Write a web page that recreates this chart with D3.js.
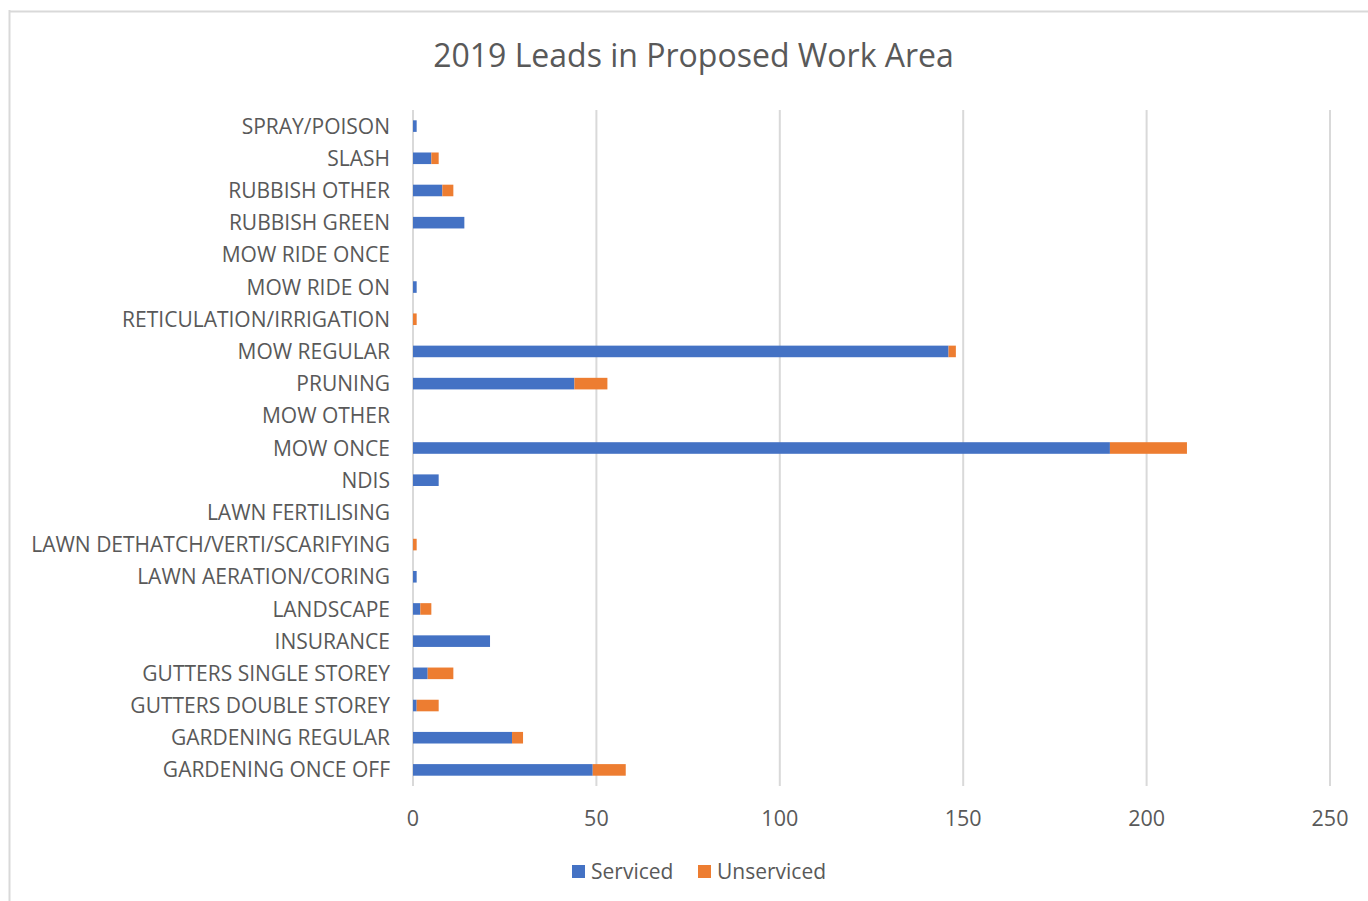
<!DOCTYPE html>
<html>
<head>
<meta charset="utf-8">
<script src="https://cdn.jsdelivr.net/npm/d3@7"></script>
<style>
  html, body { margin: 0; padding: 0; background: #ffffff; }
  svg { display: block; }
  text { font-family: "Open Sans", "Noto Sans", sans-serif; fill: #595959; }
</style>
</head>
<body>
<svg id="chart" width="1368" height="901"></svg>
<script>
// Categories listed top to bottom as displayed
const categories = [
  "SPRAY/POISON", "SLASH", "RUBBISH OTHER", "RUBBISH GREEN", "MOW RIDE ONCE",
  "MOW RIDE ON", "RETICULATION/IRRIGATION", "MOW REGULAR", "PRUNING", "MOW OTHER",
  "MOW ONCE", "NDIS", "LAWN FERTILISING", "LAWN DETHATCH/VERTI/SCARIFYING",
  "LAWN AERATION/CORING", "LANDSCAPE", "INSURANCE", "GUTTERS SINGLE STOREY",
  "GUTTERS DOUBLE STOREY", "GARDENING REGULAR", "GARDENING ONCE OFF"
];
const serviced   = [1, 5, 8, 14, 0, 1, 0, 146, 44, 0, 190, 7, 0, 0, 1, 2, 21, 4, 1, 27, 49];
const unserviced = [0, 2, 3, 0, 0, 0, 1, 2, 9, 0, 21, 0, 0, 1, 0, 3, 0, 7, 6, 3, 9];
const seriesNames = ["Serviced", "Unserviced"];
const seriesColors = ["#4472C4", "#ED7D31"];
const xTicks = [0, 50, 100, 150, 200, 250];
const titleText = "2019 Leads in Proposed Work Area";

const svg = d3.select("#chart");

// chart frame
svg.append("line").attr("x1", 9.5).attr("x2", 9.5).attr("y1", 10).attr("y2", 901)
  .attr("stroke", "#d9d9d9").attr("stroke-width", 2);
svg.append("line").attr("x1", 9).attr("x2", 1368).attr("y1", 11.5).attr("y2", 11.5)
  .attr("stroke", "#d9d9d9").attr("stroke-width", 2);

const x = d3.scaleLinear().domain([0, 250]).range([413, 1330]);
const y = d3.scaleBand().domain(categories).range([110, 786])
  .paddingInner(0.64).paddingOuter(0.32);

// gridlines
svg.append("g").selectAll("line").data(xTicks).join("line")
  .attr("x1", d => x(d)).attr("x2", d => x(d))
  .attr("y1", 110).attr("y2", 786)
  .attr("stroke", "#d9d9d9").attr("stroke-width", 2);

// stacked data
const rows = categories.map((c, i) => ({ cat: c, Serviced: serviced[i], Unserviced: unserviced[i] }));
const stack = d3.stack().keys(seriesNames)(rows);

svg.append("g").selectAll("g").data(stack).join("g")
  .attr("fill", (d, i) => seriesColors[i])
  .selectAll("rect").data(d => d.filter(p => p[1] - p[0] > 0)).join("rect")
  .attr("x", d => x(d[0]))
  .attr("width", d => x(d[1]) - x(d[0]))
  .attr("y", d => y(d.data.cat))
  .attr("height", y.bandwidth());

// category labels
svg.append("g").selectAll("text").data(categories).join("text")
  .attr("x", 390)
  .attr("y", d => y(d) + y.bandwidth() / 2)
  .attr("dy", "0.36em")
  .attr("text-anchor", "end")
  .style("font-size", "21px")
  .text(d => d);

// x tick labels
svg.append("g").selectAll("text").data(xTicks).join("text")
  .attr("x", d => x(d))
  .attr("y", 826)
  .attr("text-anchor", "middle")
  .style("font-size", "21.5px")
  .text(d => d);

// title
svg.append("text")
  .attr("x", 693.5).attr("y", 67)
  .attr("text-anchor", "middle")
  .style("font-size", "32px")
  .text(titleText);

// legend
const legendItems = [
  { name: seriesNames[0], color: seriesColors[0], x: 572 },
  { name: seriesNames[1], color: seriesColors[1], x: 698 }
];
const lg = svg.append("g").selectAll("g").data(legendItems).join("g")
  .attr("transform", d => `translate(${d.x},865)`);
lg.append("rect").attr("width", 13).attr("height", 13).attr("fill", d => d.color);
lg.append("text").attr("x", 19).attr("y", 6.5).attr("dy", "0.36em")
  .style("font-size", "21px").text(d => d.name);
</script>
</body>
</html>
